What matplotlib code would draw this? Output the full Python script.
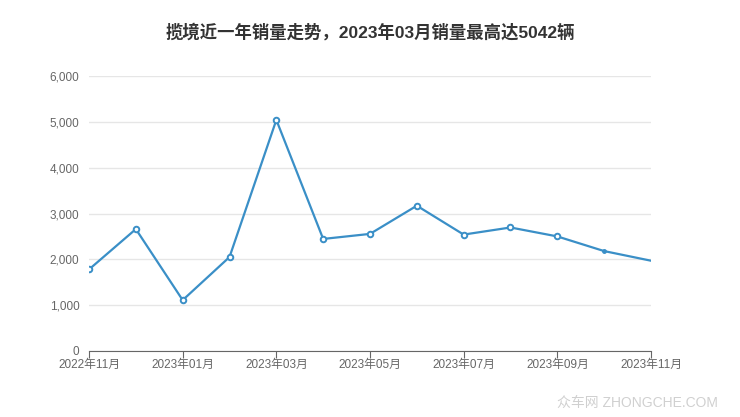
import matplotlib
matplotlib.use('Agg')
import matplotlib.pyplot as plt
from matplotlib.ticker import FuncFormatter

plt.rcParams['font.family'] = ['Liberation Sans', 'Noto Sans CJK SC', 'DejaVu Sans']

# monthly sales, 2022-11 .. 2023-11
months = ['2022年11月', '2022年12月', '2023年01月', '2023年02月', '2023年03月',
          '2023年04月', '2023年05月', '2023年06月', '2023年07月', '2023年08月',
          '2023年09月', '2023年10月', '2023年11月']
sales = [1780, 2660, 1110, 2050, 5042, 2445, 2555, 3170, 2540, 2695, 2500, 2180, 1970]
y_ticks = [0, 1000, 2000, 3000, 4000, 5000, 6000]

line_color = '#3a8fc7'

fig = plt.figure(figsize=(7.4, 4.17), dpi=100)
ax = fig.add_axes([0.1203, 0.1583, 0.7594, 0.6594])

x = list(range(len(months)))
ax.plot(x, sales, color=line_color, lw=1.6, zorder=3)
# markers on all but the last two months
ax.plot(x[:11], sales[:11], ls='none', marker='o', ms=4, mfc='white',
        mec=line_color, mew=1.4, zorder=4)
ax.plot(x[11], sales[11], ls='none', marker='o', ms=2.5, color=line_color, zorder=4)

ax.set_xlim(0, len(months) - 1)
ax.set_ylim(0, 6000)
ax.set_yticks(y_ticks)
ax.yaxis.set_major_formatter(FuncFormatter(lambda v, p: f'{int(v):,}'))
ax.set_xticks(x[::2])
ax.set_xticklabels(months[::2])

ax.grid(axis='y', color='#e6e6e6', lw=1)
ax.set_axisbelow(True)
for s in ['top', 'right', 'left']:
    ax.spines[s].set_visible(False)
ax.spines['bottom'].set_color('#666666')
ax.tick_params(axis='y', length=0, pad=7, labelsize=8.5, labelcolor='#666666')
ax.tick_params(axis='x', length=5, color='#666666', pad=1, labelsize=8.5, labelcolor='#666666')

fig.text(0.5, 0.923, '揽境近一年销量走势，2023年03月销量最高达5042辆', ha='center', va='center',
         fontsize=12.5, fontweight='bold', color='#333333')
fig.text(0.97, 0.035, '众车网 ZHONGCHE.COM', ha='right', va='center',
         fontsize=10, color='#d0d0d0')

plt.savefig('out.png', dpi=100)
